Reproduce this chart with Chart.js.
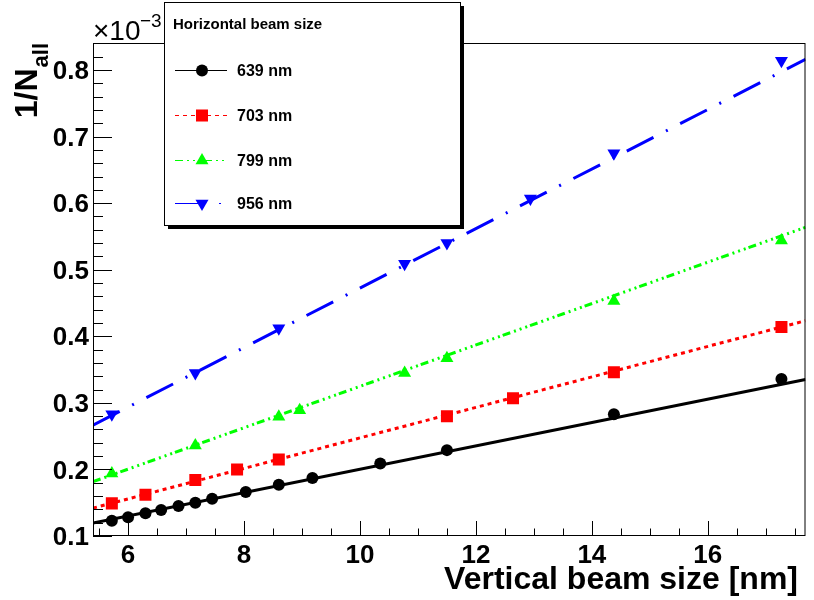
<!DOCTYPE html>
<html lang="en">
<head>
    <meta charset="UTF-8">
    <title>1/N_all vs vertical beam size</title>
    <script src="https://cdn.jsdelivr.net/npm/chart.js"></script>
    <style>
        body {
            margin: 0;
            background: white;
        }
        #beamChart {
            display: block;
        }
    </style>
</head>
<body>
    <canvas id="beamChart" width="814" height="600"></canvas>

    <script>
        // measured points (x = vertical beam size in nm, y = 1/N_all in units of 1e-3)
        const xBlack = [5.72, 6.0, 6.3, 6.57, 6.87, 7.16, 7.45, 8.03, 8.6, 9.18, 10.35, 11.5, 14.38, 17.27];
        const yBlack = [0.123, 0.128, 0.134, 0.139, 0.145, 0.150, 0.156, 0.166, 0.177, 0.187, 0.209, 0.229, 0.283, 0.336];
        const xRed = [5.72, 6.3, 7.16, 7.88, 8.6, 11.5, 12.64, 14.38, 17.27];
        const yRed = [0.149, 0.162, 0.184, 0.200, 0.215, 0.280, 0.307, 0.346, 0.414];
        const xGreen = [5.72, 7.16, 8.6, 8.96, 10.77, 11.5, 14.38, 17.27];
        const yGreen = [0.194, 0.236, 0.279, 0.289, 0.345, 0.367, 0.453, 0.544];
        const xBlue = [5.72, 7.16, 8.6, 10.77, 11.5, 12.94, 14.38, 17.27];
        const yBlue = [0.283, 0.345, 0.412, 0.509, 0.540, 0.607, 0.675, 0.814];

        // linear fits, evaluated at the axis ends
        const fitX = [5.395, 17.685];
        const fitBlack = [0.1196, 0.335];
        const fitRed = [0.1419, 0.4234];
        const fitGreen = [0.1816, 0.5637];
        const fitBlue = [0.2666, 0.816];

        const seriesNames = ["639 nm", "703 nm", "799 nm", "956 nm"];
        const xTicks = [6, 8, 10, 12, 14, 16];
        const yTicks = [0.1, 0.2, 0.3, 0.4, 0.5, 0.6, 0.7, 0.8];

        const FONT = "'Liberation Sans', Arial, sans-serif";
        const styles = [
            { color: "#000000", dash: [], point: "circle", radius: 6, rot: 0 },
            { color: "#ff0000", dash: [4, 4], point: "rect", radius: 8.5, rot: 0 },
            { color: "#00ff00", dash: [8, 4, 2, 4, 2, 4, 2, 3], point: "triangle", radius: 7.5, rot: 0 },
            { color: "#0000ff", dash: [30, 14, 2, 14], point: "triangle", radius: 7.5, rot: 180 }
        ];

        function pts(xs, ys) {
            return xs.map((x, i) => ({ x: x, y: ys[i] }));
        }

        const markerSets = [pts(xBlack, yBlack), pts(xRed, yRed), pts(xGreen, yGreen), pts(xBlue, yBlue)];
        const fitSets = [pts(fitX, fitBlack), pts(fitX, fitRed), pts(fitX, fitGreen), pts(fitX, fitBlue)];

        let datasets = [];
        fitSets.forEach((d, i) => {
            datasets.push({
                data: d, showLine: true, pointRadius: 0, borderColor: styles[i].color,
                borderWidth: 3, borderDash: styles[i].dash, order: 2
            });
        });
        markerSets.forEach((d, i) => {
            datasets.push({
                data: d, showLine: false, pointStyle: styles[i].point, pointRadius: styles[i].radius,
                pointRotation: styles[i].rot, backgroundColor: styles[i].color,
                borderColor: styles[i].color, borderWidth: 0, order: 1
            });
        });

        // ROOT-like frame, inward ticks, titles and legend box
        const decorations = {
            id: "decorations",
            afterDraw(chart) {
                const ctx = chart.ctx;
                const xs = chart.scales.x, ys = chart.scales.y;
                const a = chart.chartArea;
                ctx.save();
                ctx.strokeStyle = "#000";
                ctx.lineWidth = 1;

                // ticks
                ctx.beginPath();
                for (let v = 5.5; v <= 17.5; v += 0.5) {
                    const px = Math.round(xs.getPixelForValue(v)) + 0.5;
                    const len = Math.abs(v % 2) < 1e-6 ? 15 : 7.5;
                    ctx.moveTo(px, a.bottom);
                    ctx.lineTo(px, a.bottom - len);
                }
                for (let k = 0; k <= 37; k++) {
                    const v = 0.1 + k * 0.02;
                    if (v > ys.max) break;
                    const py = Math.round(ys.getPixelForValue(v)) + 0.5;
                    const len = k % 5 === 0 ? 19 : 10;
                    ctx.moveTo(a.left, py);
                    ctx.lineTo(a.left + len, py);
                }
                ctx.stroke();

                // frame
                ctx.strokeRect(a.left + 0.5, a.top + 0.5, a.right - a.left - 1, a.bottom - a.top - 1);

                // axis titles
                ctx.fillStyle = "#000";
                ctx.textBaseline = "alphabetic";
                ctx.font = "bold 32px " + FONT;
                ctx.textAlign = "right";
                ctx.fillText("Vertical beam size [nm]", 798, 589);

                ctx.save();
                ctx.translate(37, a.top);
                ctx.rotate(-Math.PI / 2);
                ctx.font = "bold 22px " + FONT;
                const wSub = ctx.measureText("all").width;
                ctx.fillText("all", 0, 11);
                ctx.font = "bold 32px " + FONT;
                ctx.fillText("1/N", -wSub - 1, 0);
                ctx.restore();

                ctx.textAlign = "left";
                ctx.font = "28px " + FONT;
                ctx.fillText("\u00d710", 93, 40);
                ctx.font = "19px " + FONT;
                ctx.fillText("\u22123", 140, 27);

                // legend
                const lx = 164, ly = 2, lw = 296, lh = 223;
                ctx.fillRect(lx + 4, ly + 4, lw, lh);
                ctx.fillStyle = "#fff";
                ctx.fillRect(lx, ly, lw, lh);
                ctx.strokeRect(lx + 0.5, ly + 0.5, lw, lh);
                ctx.fillStyle = "#000";
                ctx.font = "bold 15px " + FONT;
                ctx.fillText("Horizontal beam size", 173, 29);

                const rowY = [70, 115, 160, 203];
                seriesNames.forEach((name, i) => {
                    const s = styles[i];
                    const y = rowY[i] + 0.5;
                    ctx.strokeStyle = s.color;
                    ctx.lineWidth = 1;
                    ctx.setLineDash(s.dash);
                    ctx.beginPath();
                    ctx.moveTo(175, y);
                    ctx.lineTo(227, y);
                    ctx.stroke();
                    ctx.setLineDash([]);
                    ctx.fillStyle = s.color;
                    Chart.helpers.drawPoint(ctx, {
                        pointStyle: s.point, radius: s.radius, rotation: s.rot, borderWidth: 0
                    }, 202, y);
                    ctx.fillStyle = "#000";
                    ctx.font = "bold 16px " + FONT;
                    ctx.fillText(name, 237, rowY[i] + 6);
                });
                ctx.restore();
            }
        };

        new Chart(document.getElementById("beamChart"), {
            type: "scatter",
            data: { datasets: datasets },
            options: {
                responsive: false,
                animation: false,
                layout: { padding: { top: 43, right: 4, left: 0, bottom: 0 } },
                plugins: { legend: { display: false }, tooltip: { enabled: false } },
                scales: {
                    x: {
                        type: "linear", min: 5.395, max: 17.685,
                        grid: { display: false, drawTicks: false },
                        border: { display: false },
                        afterBuildTicks: s => { s.ticks = xTicks.map(v => ({ value: v })); },
                        afterFit: s => { s.height = 64; },
                        ticks: {
                            color: "#000", padding: 4,
                            font: { family: FONT, size: 26, weight: "bold" },
                            callback: v => String(v)
                        }
                    },
                    y: {
                        type: "linear", min: 0.1, max: 0.8406,
                        grid: { display: false, drawTicks: false },
                        border: { display: false },
                        afterBuildTicks: s => { s.ticks = yTicks.map(v => ({ value: v })); },
                        afterFit: s => { s.width = 93; },
                        ticks: {
                            color: "#000", padding: 4, labelOffset: 2,
                            font: { family: FONT, size: 26, weight: "bold" },
                            callback: v => v.toFixed(1)
                        }
                    }
                }
            },
            plugins: [decorations]
        });
    </script>
</body>
</html>
